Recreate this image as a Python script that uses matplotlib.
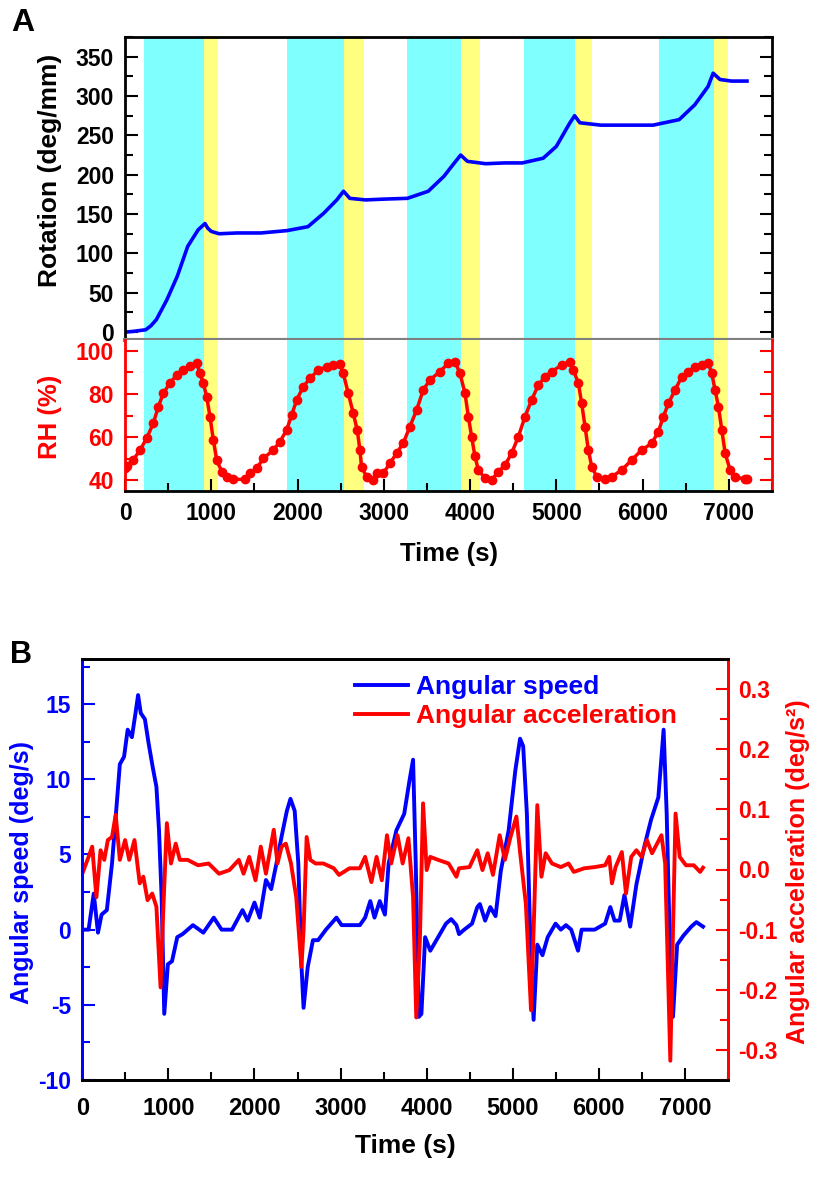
import numpy as np
import matplotlib
matplotlib.use('Agg')
import matplotlib.pyplot as plt
from matplotlib.ticker import MultipleLocator, FormatStrFormatter

plt.rcParams['font.family'] = ['Liberation Sans', 'DejaVu Sans']
plt.rcParams['font.weight'] = 'bold'
plt.rcParams['axes.unicode_minus'] = False

#%% data
# humidity steps (s)
cyan_bands = [(220, 910), (1880, 2540), (3270, 3900), (4620, 5220), (6190, 6830)]
yellow_bands = [(910, 1080), (2540, 2770), (3900, 4120), (5220, 5410), (6830, 6990)]

# panel A, rotation
rot_t = [0, 100, 240, 300, 364, 485, 606, 727, 848, 927, 960, 1000, 1090, 1300, 1576, 1879,
         2121, 2303, 2455, 2533, 2606, 2788, 3000, 3273, 3515, 3697, 3818, 3891, 3970, 4182,
         4400, 4606, 4848, 5000, 5152, 5212, 5273, 5515, 5800, 6121, 6424, 6606, 6758, 6818,
         6897, 7030, 7210]
rot_v = [0, 1, 3, 8, 16, 41, 71, 109, 130, 138, 132, 128, 125, 126, 126, 129,
         134, 151, 168, 179, 170, 168, 169, 170, 179, 198, 215, 225, 217, 214,
         215, 215, 221, 236, 265, 275, 266, 263, 263, 263, 270, 289, 312, 329,
         321, 319, 319]

# panel A, relative humidity
rh_t = [0, 19, 96, 174, 251, 328, 386, 444, 519, 599, 676, 754, 831, 869, 908, 947, 985,
        1024, 1063, 1121, 1179, 1256, 1391, 1449, 1526, 1604, 1719, 1797, 1874, 1932, 1990,
        2067, 2144, 2241, 2337, 2414, 2492, 2530, 2588, 2646, 2692, 2723, 2742, 2800, 2877,
        2916, 2993, 3071, 3148, 3225, 3302, 3380, 3457, 3534, 3650, 3747, 3825, 3883, 3941,
        3980, 4018, 4057, 4096, 4173, 4250, 4328, 4405, 4482, 4560, 4637, 4714, 4791, 4869,
        4946, 5062, 5159, 5197, 5256, 5294, 5333, 5371, 5410, 5468, 5565, 5642, 5758, 5874,
        5990, 6106, 6183, 6241, 6299, 6376, 6454, 6531, 6608, 6686, 6763, 6802, 6840, 6879,
        6918, 6957, 7015, 7073, 7189, 7209]
rh_v = [45.5, 46.6, 49.4, 54, 59.4, 66.4, 74, 80.3, 84.9, 88.8, 91.1, 92.9, 94.2, 89.5, 84.9,
        78.7, 69.5, 58.6, 49.4, 44, 41.6, 40.4, 40.4, 43.2, 45.5, 50.1, 54, 57.9, 63.3, 70.2,
        77.2, 83.4, 87.2, 91.1, 92.6, 93.4, 93.9, 89.5, 80.3, 71, 63.3, 54, 46.3, 41.6, 40.1,
        43.5, 43.2, 47.8, 52.5, 57.1, 64.8, 72.5, 81.8, 86.5, 90.3, 94.2, 95, 89.5, 80.3,
        69.5, 60.2, 51, 44.7, 40.9, 40.1, 44, 47, 52.5, 60.2, 69.5, 77.2, 84.1, 88,
        90.3, 93.4, 95, 91.1, 84.9, 75.6, 64.8, 54, 46.3, 41.6, 40.4, 41.6, 44.7, 49.4,
        54, 57.1, 62.5, 69.5, 75.6, 81.8, 88, 90.3, 92.6, 93.4, 94.2, 89.5, 81.8, 74.1,
        63.3, 52.5, 44.7, 41.6, 40.4, 40.4]

# panel B, angular speed
spd_t = [0, 73, 133, 182, 224, 285, 345, 406, 436, 485, 527, 576, 618, 648, 679, 727, 770,
         818, 861, 891, 921, 952, 994, 1042, 1103, 1164, 1285, 1406, 1527, 1618, 1739, 1861,
         1921, 2000, 2061, 2133, 2194, 2255, 2315, 2376, 2418, 2467, 2509, 2545, 2570, 2618,
         2679, 2739, 2830, 2952, 3012, 3224, 3285, 3345, 3394, 3455, 3515, 3558, 3648, 3739,
         3800, 3842, 3873, 3909, 3939, 3982, 4042, 4133, 4224, 4285, 4345, 4376, 4436, 4527,
         4588, 4618, 4679, 4739, 4800, 4861, 4952, 5030, 5085, 5121, 5164, 5212, 5242, 5285,
         5345, 5406, 5497, 5558, 5618, 5679, 5758, 5800, 5952, 6073, 6133, 6182, 6242, 6297,
         6364, 6436, 6527, 6606, 6691, 6752, 6788, 6830, 6861, 6909, 6982, 7073, 7133, 7210]
spd_v = [0, 0, 2.4, -0.2, 1.0, 1.3, 4.4, 8.8, 11.0, 11.5, 13.3, 12.8, 14.4, 15.6, 14.4, 14.0, 12.4,
         10.8, 9.5, 6.6, 2.2, -5.6, -2.3, -2.1, -0.5, -0.3, 0.3, -0.2, 0.8, 0, 0, 1.3,
         0.6, 1.8, 0.8, 3.3, 2.7, 4.4, 6.2, 7.9, 8.7, 7.9, 4.4, -2.3, -5.2, -2.5,
         -0.7, -0.7, 0, 0.8, 0.3, 0.3, 0.8, 1.9, 0.8, 1.9, 1.0, 4.4, 6.6, 7.7,
         9.9, 11.3, 4.4, -5.8, -5.6, -0.5, -1.4, -0.5, 0.4, 0.7, 0.3, -0.3, 0, 0.4,
         1.5, 1.7, 0.6, 1.5, 0.9, 3.9, 6.6, 10.6, 12.7, 12.2, 7.7, -2.3, -6.0, -1.0,
         -1.7, -0.5, 0.4, 0, 0.3, 0, -1.4, 0, 0, 0.4, 1.5, 0.6, 0.6, 2.3,
         0.2, 3.0, 5.5, 7.3, 8.8, 13.3, 7.7, -2.3, -5.8, -1.0, -0.4, 0.2, 0.5, 0.2]

# panel B, angular acceleration
acc_t = [0, 73, 115, 164, 212, 255, 297, 345, 388, 436, 497, 545, 606, 667, 709, 758, 812,
         861, 909, 939, 982, 1030, 1085, 1133, 1224, 1345, 1467, 1588, 1709, 1818, 1873, 1939,
         2012, 2073, 2133, 2224, 2267, 2315, 2364, 2424, 2485, 2545, 2570, 2606, 2648, 2709,
         2800, 2921, 2982, 3103, 3224, 3285, 3358, 3418, 3479, 3539, 3588, 3661, 3721, 3788,
         3842, 3879, 3921, 3958, 4000, 4042, 4133, 4255, 4345, 4376, 4497, 4588, 4648, 4709,
         4770, 4848, 4909, 4970, 5042, 5091, 5152, 5212, 5248, 5285, 5333, 5382, 5455, 5558,
         5648, 5709, 5830, 5952, 6073, 6121, 6152, 6194, 6267, 6315, 6376, 6436, 6497, 6558,
         6618, 6727, 6770, 6830, 6861, 6891, 6939, 7012, 7103, 7176, 7210]
acc_v = [-0.007, 0.021, 0.038, -0.046, 0.032, 0.016, 0.049, 0.054, 0.091, 0.016, 0.049, 0.016,
         0.049, -0.023, -0.012, -0.051, -0.04, -0.062, -0.196, -0.073, 0.077, 0.01, 0.043, 0.016,
         0.016, 0.007, 0.01, -0.007, -0.001, 0.016, -0.007, 0.021, -0.018, 0.038, -0.007, 0.066,
         0.01, 0.038, 0.043, 0.01, -0.046, -0.162, -0.101, 0.054, 0.016, 0.01, 0.01, 0.002,
         -0.009, 0.002, 0.002, 0.021, -0.021, 0.021, -0.018, 0.057, 0.01, 0.057, 0.01, 0.052,
         -0.046, -0.246, -0.118, 0.11, -0.001, 0.021, 0.016, 0.01, -0.012, 0.002, 0.004, 0.032,
         -0.001, 0.027, -0.009, 0.057, 0.016, 0.052, 0.088, 0.021, -0.057, -0.234, -0.073, 0.107,
         -0.012, 0.027, 0.01, 0.004, 0.01, -0.004, 0.002, 0.004, 0.007, 0.021, -0.023, 0.004,
         0.029, -0.04, 0.021, 0.032, 0.021, 0.049, 0.027, 0.057, 0.01, -0.318, -0.101, 0.093,
         0.021, 0.007, 0.007, -0.004, 0.003]

cyan = '#80FFFF'
yellow = '#FFFF80'
W, H = 816, 1195


def px_axes(left, top, right, bottom):
    return fig.add_axes([left / W, 1 - bottom / H, (right - left) / W, (bottom - top) / H])


def ticks_style(ax, axis, major_len=9, minor_len=5.5, **kw):
    ax.tick_params(axis=axis, which='both', direction='in', width=1.5, **kw)
    ax.tick_params(axis=axis, which='major', length=major_len)
    ax.tick_params(axis=axis, which='minor', length=minor_len)


fig = plt.figure(figsize=(W / 100, H / 100), dpi=100)

#%% panel A top: rotation
axR = px_axes(125, 37, 772, 340)
axH = px_axes(125, 340, 772, 491)
for ax in (axR, axH):
    for a, b in cyan_bands:
        ax.axvspan(a, b, color=cyan, lw=0, zorder=0)
    for a, b in yellow_bands:
        ax.axvspan(a, b, color=yellow, lw=0, zorder=0)
    ax.set_xlim(0, 7500)
    for s in ax.spines.values():
        s.set_linewidth(2)

axR.plot(rot_t, rot_v, color='#0000FF', lw=2.6)
axR.set_ylim(-10, 375)
axR.yaxis.set_major_locator(MultipleLocator(50))
axR.yaxis.set_minor_locator(MultipleLocator(25))
ticks_style(axR, 'y', left=True, right=True, labelsize=16.5, pad=8)
axR.tick_params(axis='x', which='both', bottom=False, top=False, labelbottom=False)
axR.spines['bottom'].set_color('#808080')
axR.spines['bottom'].set_linewidth(3)
axR.spines['bottom'].set_zorder(5)
axR.set_ylabel('Rotation (deg/mm)', fontsize=19, fontweight='bold')
axR.yaxis.set_label_coords(-0.097, 0.56)

#%% panel A bottom: RH
axH.plot(rh_t, rh_v, '-o', color='#FF0000', lw=2.5, markersize=6)
axH.set_ylim(35, 105)
axH.yaxis.set_major_locator(MultipleLocator(20))
axH.yaxis.set_minor_locator(MultipleLocator(10))
axH.xaxis.set_major_locator(MultipleLocator(1000))
axH.xaxis.set_minor_locator(MultipleLocator(500))
ticks_style(axH, 'y', left=True, right=True, labelsize=16.5, pad=8, colors='#FF0000')
ticks_style(axH, 'x', bottom=True, top=False, labelsize=16.5, pad=8)
axH.spines['left'].set_color('#FF0000')
axH.spines['right'].set_color('#FF0000')
axH.spines['top'].set_visible(False)
axH.set_ylabel('RH (%)', fontsize=18.5, fontweight='bold', color='#FF0000')
axH.yaxis.set_label_coords(-0.097, 0.49)
axH.set_xlabel('Time (s)', fontsize=18.5, fontweight='bold', labelpad=12)

fig.text(11 / W, 1 - 8 / H, 'A', fontsize=23, fontweight='bold', va='top', ha='left')

#%% panel B
axB = px_axes(82.3, 659, 728, 1080)
axB2 = axB.twinx()
l1, = axB.plot(spd_t, spd_v, color='#0000FF', lw=2.8, label='Angular speed')
l2, = axB2.plot(acc_t, acc_v, color='#FF0000', lw=2.8, label='Angular acceleration')
axB.set_xlim(0, 7500)
axB.set_ylim(-10, 18)
axB2.set_ylim(-0.35, 0.35)
axB.yaxis.set_major_locator(MultipleLocator(5))
axB.yaxis.set_minor_locator(MultipleLocator(2.5))
axB2.yaxis.set_major_locator(MultipleLocator(0.1))
axB2.yaxis.set_minor_locator(MultipleLocator(0.05))
axB2.yaxis.set_major_formatter(FormatStrFormatter('%.1f'))
axB.xaxis.set_major_locator(MultipleLocator(1000))
axB.xaxis.set_minor_locator(MultipleLocator(500))
ticks_style(axB, 'y', left=True, right=False, labelsize=16.5, pad=8, colors='#0000FF')
ticks_style(axB, 'x', bottom=True, top=False, labelsize=17, pad=12)
ticks_style(axB2, 'y', left=False, right=True, labelsize=16.5, pad=7.5, colors='#FF0000')
for ax in (axB, axB2):
    for s in ax.spines.values():
        s.set_linewidth(2)
    ax.spines['left'].set_color('#0000FF')
    ax.spines['right'].set_color('#FF0000')

axB.set_ylabel('Angular speed (deg/s)', fontsize=18, fontweight='bold', color='#0000FF')
axB.yaxis.set_label_coords(-0.075, 0.493)
axB2.set_ylabel('Angular acceleration (deg/s²)', fontsize=18, fontweight='bold', color='#FF0000')
axB2.yaxis.set_label_coords(1.09, 0.495)
axB.set_xlabel('Time (s)', fontsize=19, fontweight='bold', labelpad=10)

leg = axB2.legend([l1, l2], ['Angular speed', 'Angular acceleration'], loc='upper left',
                  bbox_to_anchor=(342 / W, 1 - 662 / H), bbox_transform=fig.transFigure,
                  frameon=False, borderpad=0, handlelength=2.0, handletextpad=0.3,
                  labelspacing=0.2, prop=dict(size=19, weight='bold'))
for txt, c in zip(leg.get_texts(), ['#0000FF', '#FF0000']):
    txt.set_color(c)

fig.text(10 / W, 1 - 640 / H, 'B', fontsize=22, fontweight='bold', va='top', ha='left')

fig.savefig('out.png', dpi=100)
